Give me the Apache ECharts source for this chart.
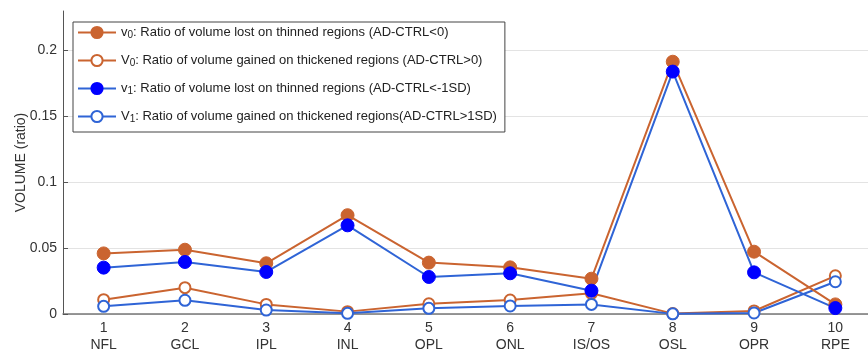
<!DOCTYPE html>
<html><head><meta charset="utf-8">
<script src="https://cdn.jsdelivr.net/npm/echarts@6/dist/echarts.min.js"></script>
<style>html,body{margin:0;padding:0;background:#fff}#c{width:868px;height:353px}</style>
</head><body><div id="c"></div>
<script>
const tickNumbers = ['1','2','3','4','5','6','7','8','9','10'];
const layers = ['NFL','GCL','IPL','INL','OPL','ONL','IS/OS','OSL','OPR','RPE'];
const v0Lost   = [0.046, 0.0488, 0.0385, 0.075, 0.039, 0.0354, 0.0268, 0.1915, 0.0473, 0.0073];
const V0Gained = [0.0109, 0.020, 0.0073, 0.0018, 0.0078, 0.0106, 0.0157, 0.0003, 0.0023, 0.029];
const v1Lost   = [0.0352, 0.0395, 0.0319, 0.0673, 0.0281, 0.0309, 0.0177, 0.184, 0.0316, 0.0045];
const V1Gained = [0.0058, 0.0104, 0.003, 0.0005, 0.0043, 0.0061, 0.0073, 0.0001, 0.0008, 0.0245];
const yTicks = [0, 0.05, 0.1, 0.15, 0.2];
const legendNames = [
  ['v','0',': Ratio of volume lost on thinned regions (AD-CTRL<0)'],
  ['V','0',': Ratio of volume gained on thickened regions (AD-CTRL>0)'],
  ['v','1',': Ratio of volume lost on thinned regions (AD-CTRL<-1SD)'],
  ['V','1',': Ratio of volume gained on thickened regions(AD-CTRL>1SD)']
];
const ORANGE = '#CA6430', BLUE = '#2F64D6', BLUEFILL = '#0000FF';
const FONT = 'Liberation Sans';
const cats = tickNumbers.map((n,i)=>n+'\n'+layers[i]);
function ser(idx, data, color, filled, fillColor){
  return {
    name: legendNames[idx].join('|'),
    type: 'line', data: data,
    symbol: 'circle',
    symbolSize: filled ? 13 : 11,
    lineStyle: {color: color, width: 2},
    itemStyle: filled ? {color: fillColor, borderColor: fillColor, borderWidth: 1}
                      : {color: '#fff', borderColor: color, borderWidth: 2},
    emphasis: {disabled: true},
    z: filled ? 3 : 2
  };
}
const chart = echarts.init(document.getElementById('c'), null, {renderer:'canvas'});
chart.setOption({
  animation: false,
  textStyle: {fontFamily: FONT},
  grid: {left: 63, top: 11, width: 813, bottom: 39, containLabel: false, outerBoundsMode: 'none'},
  legend: {
    orient: 'vertical', left: 73, top: 22,
    itemWidth: 38, itemHeight: 14, itemGap: 13,
    padding: [3, 8, 8, 4],
    backgroundColor: '#fff', borderColor: '#444', borderWidth: 1, borderRadius: 0,
    formatter: function(n){ const p = n.split('|'); return '{n|'+p[0]+'}{s|'+p[1]+'}{n|'+p[2]+'}'; },
    textStyle: {
      fontFamily: FONT, color: '#222',
      rich: {
        n: {fontSize: 13, fontFamily: FONT, color: '#222', lineHeight: 16},
        s: {fontSize: 10, fontFamily: FONT, color: '#222', lineHeight: 12, padding: [5,0,0,0]}
      }
    }
  },
  xAxis: {
    type: 'category', data: cats, boundaryGap: true,
    axisLine: {lineStyle: {color: '#777', width: 1.5}},
    axisTick: {inside: true, alignWithLabel: true, length: 5, lineStyle: {color: '#555'}},
    axisLabel: {fontSize: 14, color: '#333', lineHeight: 17, margin: 6, fontFamily: FONT},
    splitLine: {show: false}
  },
  yAxis: {
    type: 'value', min: 0, max: 0.23, interval: 0.05,
    name: 'VOLUME (ratio)', nameLocation: 'middle', nameGap: 35, nameMoveOverlap: false,
    nameTextStyle: {fontSize: 14, color: '#333', fontFamily: FONT},
    axisLine: {show: true, lineStyle: {color: '#555', width: 1}},
    axisTick: {show: true, inside: true, length: 5, lineStyle: {color: '#555'}},
    axisLabel: {fontSize: 14, color: '#333', margin: 6, showMaxLabel: false, fontFamily: FONT,
      formatter: function(v){ return yTicks.some(t=>Math.abs(t-v)<1e-9) ? String(+v.toFixed(2)) : ''; }},
    splitLine: {show: true, showMaxLine: false, lineStyle: {color: '#e3e3e3', width: 1}}
  },
  series: [
    ser(0, v0Lost, ORANGE, true, ORANGE),
    ser(1, V0Gained, ORANGE, false),
    ser(2, v1Lost, BLUE, true, BLUEFILL),
    ser(3, V1Gained, BLUE, false)
  ]
});
</script></body></html>
